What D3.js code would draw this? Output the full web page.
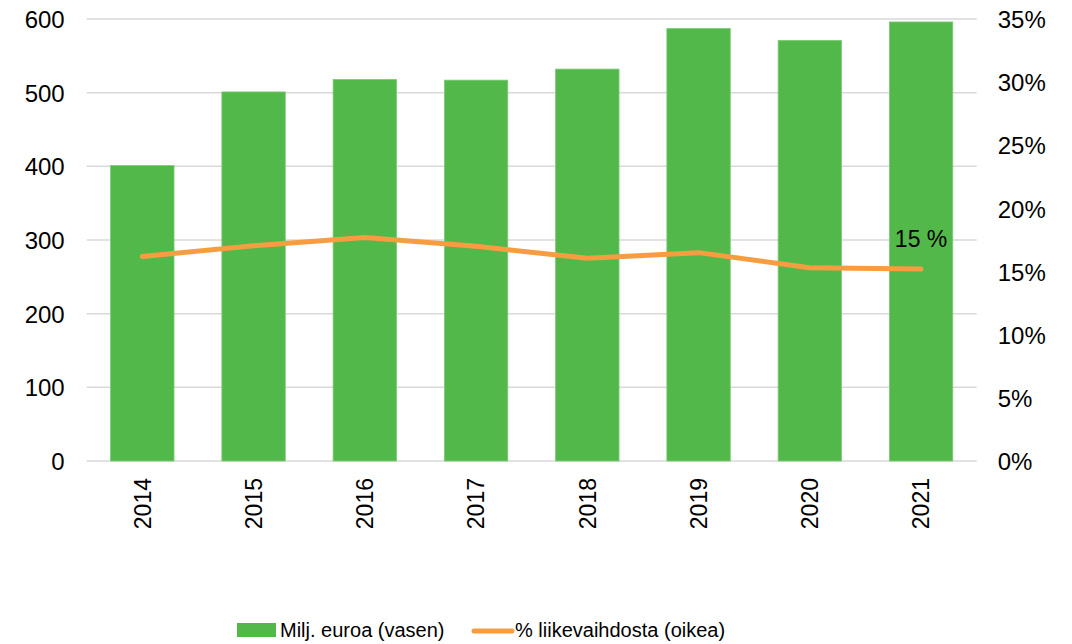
<!DOCTYPE html>
<html><head><meta charset="utf-8">
<script src="https://cdn.jsdelivr.net/npm/d3@7"></script>
<style>body{margin:0;background:#fff}svg{display:block}text{font-family:"Liberation Sans",Arial,sans-serif;fill:#000}</style>
</head><body>
<svg id="c" width="1072" height="644"></svg>
<script>
const years = ["2014","2015","2016","2017","2018","2019","2020","2021"];
const euros = [401, 501, 518, 517, 532, 587, 571, 596];
const pct = [16.2, 17.05, 17.7, 17.0, 16.05, 16.5, 15.3, 15.2];
const leftTicks = [0,100,200,300,400,500,600];
const rightTicks = [0,5,10,15,20,25,30,35];
const seriesNames = ["Milj. euroa (vasen)", "% liikevaihdosta (oikea)"];
const lastLabel = "15 %";

const svg = d3.select("#c");
const L = 86.7, R = 976.7, T = 19, B = 461;
const x = d3.scaleBand().domain(years).range([L, R]).paddingInner(0.43).paddingOuter(0.215);
const yL = d3.scaleLinear().domain([0, 600]).range([B, T]);
const yR = d3.scaleLinear().domain([0, 35]).range([B, T]);
const green = "#53B84A", orange = "#F79D41";

// gridlines
svg.append("g").selectAll("line").data(leftTicks).join("line")
  .attr("x1", L).attr("x2", R).attr("y1", d => yL(d)).attr("y2", d => yL(d))
  .attr("stroke", "#D9D9D9").attr("stroke-width", 1.5);

// bars
svg.append("g").selectAll("rect").data(euros).join("rect")
  .attr("x", (d,i) => x(years[i])).attr("width", x.bandwidth())
  .attr("y", d => yL(d)).attr("height", d => yL(0) - yL(d))
  .attr("fill", green).attr("stroke", "#7CCB74").attr("stroke-width", 0.8);

// left axis
const axL = svg.append("g").attr("transform", `translate(${L},0)`)
  .call(d3.axisLeft(yL).tickValues(leftTicks).tickSize(0).tickPadding(22));
axL.select(".domain").remove();
axL.selectAll("text").style("font-size", "24px").attr("dy", "0.36em");

// right axis
const axR = svg.append("g").attr("transform", `translate(${R},0)`)
  .call(d3.axisRight(yR).tickValues(rightTicks).tickSize(0).tickPadding(21).tickFormat(d => d + "%"));
axR.select(".domain").remove();
axR.selectAll("text").style("font-size", "24px").attr("dy", "0.36em");

// x axis
const axX = svg.append("g").attr("transform", `translate(0,${B})`)
  .call(d3.axisBottom(x).tickSize(0));
axX.select(".domain").remove();
axX.selectAll("text").style("font-size", "23px")
  .attr("transform", "rotate(-90)").attr("text-anchor", "end")
  .attr("x", -17).attr("y", 0).attr("dy", "0.36em");

// line
const line = d3.line().x((d,i) => x(years[i]) + x.bandwidth()/2).y(d => yR(d));
svg.append("path").datum(pct).attr("d", line).attr("fill", "none")
  .attr("stroke", orange).attr("stroke-width", 5).attr("stroke-linecap", "round").attr("stroke-linejoin", "round");

// data label
const li = pct.length - 1;
svg.append("text").attr("x", x(years[li]) + x.bandwidth()/2).attr("y", yR(pct[li]) - 22)
  .attr("text-anchor", "middle").style("font-size", "23px").text(lastLabel);

// legend
const lg = svg.append("g");
lg.append("rect").attr("x", 237).attr("y", 623).attr("width", 39).attr("height", 14).attr("fill", green);
lg.append("text").attr("x", 280).attr("y", 637).style("font-size", "20px").text(seriesNames[0]);
lg.append("line").attr("x1", 474).attr("x2", 512).attr("y1", 631).attr("y2", 631)
  .attr("stroke", orange).attr("stroke-width", 5).attr("stroke-linecap", "round");
lg.append("text").attr("x", 515).attr("y", 637).style("font-size", "20px").text(seriesNames[1]);
</script>
</body></html>
